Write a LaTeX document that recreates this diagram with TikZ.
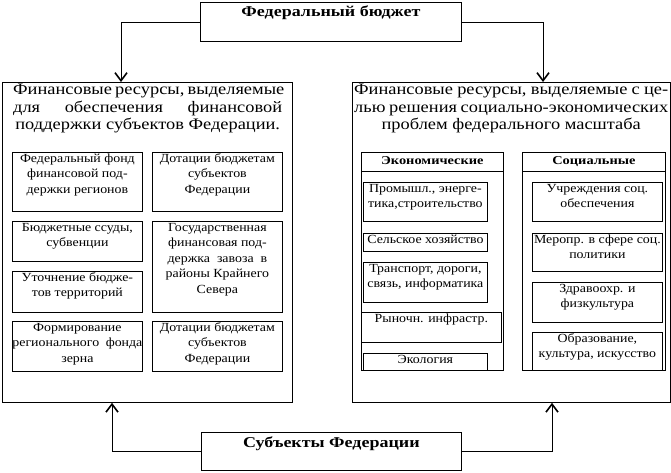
\documentclass[tikz,border=0pt]{standalone}
\usepackage{fontspec}
\setmainfont{Liberation Serif}[FakeStretch=1.12, BoldFeatures={FakeStretch=1.2}]
\newfontfamily\ttlfont{Liberation Serif}[FakeStretch=1.15]
\usetikzlibrary{arrows.meta}
\newcommand\bxt[3]{\parbox[t][#2pt][t]{#1pt}{\centering\rule{0pt}{10pt}#3\par}}
\begin{document}
\begin{tikzpicture}[x=1pt,y=-1pt,
  box/.style={draw, line width=0.8pt, inner sep=0pt, anchor=north west,
    font=\fontsize{12.4}{15.5}\selectfont},
  bigbox/.style={draw, line width=0.8pt, inner sep=0pt, anchor=north west},
  ttl/.style={anchor=north west, inner sep=0pt, align=left,
    font=\ttlfont\fontsize{16}{17.5}\selectfont},
  hdr/.style={draw, line width=0.8pt, inner sep=0pt, anchor=north west,
    font=\bfseries\fontsize{12}{14}\selectfont},
  conn/.style={line width=0.8pt, -{Straight Barb[length=8pt,width=12pt,line width=1.6pt]}}]
\useasboundingbox (0,0) rectangle (671,472);
% top and bottom
\node[bigbox, font=\bfseries\fontsize{15}{17}\selectfont] (fb) at (200,2)
  {\parbox[t][39pt][t]{261pt}{\centering\rule{0pt}{14pt}Федеральный бюджет\par}};
\node[bigbox, font=\bfseries\fontsize{15}{17}\selectfont] (sf) at (201,432)
  {\parbox[t][38pt][t]{260pt}{\centering\rule{0pt}{15pt}Субъекты Федерации\par}};
% panels
\node[bigbox, minimum width=290pt, minimum height=320pt] (lp) at (2,82) {};
\node[bigbox, minimum width=318pt, minimum height=320pt] (rp) at (352,82) {};
\node[ttl] (lt) at (13,84) {\makebox[269pt][s]{Финансовые ресурсы, выделяемые}\\
  \makebox[269pt][s]{для обеспечения финансовой}\\
  \makebox[269pt][c]{поддержки субъектов Федерации.}};
\node[ttl] (rt) at (354,84) {\makebox[314pt][s]{Финансовые ресурсы, выделяемые с це-}\\
  \makebox[314pt][s]{лью решения социально-экономических}\\
  \makebox[314pt][c]{проблем федерального масштаба}};
% left inner boxes
\node[box] (l1) at (12,152) {\bxt{130}{59}{Федеральный фонд\\финансовой под-\\держки регионов}};
\node[box] (r1) at (152,152) {\bxt{130}{59}{Дотации бюджетам\\субъектов\\Федерации}};
\node[box] (l2) at (12,221) {\bxt{130}{40}{Бюджетные ссуды,\\субвенции}};
\node[box] (r2) at (152,221) {\bxt{130}{91}{Государственная\\финансовая под-\\держка\ \ завоза\ \ в\\районы Крайнего\\Севера}};
\node[box] (l3) at (12,271) {\bxt{130}{41}{Уточнение бюдже-\\тов территорий}};
\node[box] (l4) at (12,321) {\bxt{130}{50}{Формирование\\регионального\ \ фонда\\зерна}};
\node[box] (r4) at (152,321) {\bxt{130}{50}{Дотации бюджетам\\субъектов\\Федерации}};
% right columns
\node[bigbox, minimum width=142pt, minimum height=218pt] (ec) at (361,152) {};
\node[hdr] (eh) at (361,152) {\parbox[t][19pt][t]{142pt}{\centering\rule{0pt}{12pt}Экономические\par}};
\node[bigbox, minimum width=143pt, minimum height=218pt] (sc) at (522,152) {};
\node[hdr] (sh) at (522,152) {\parbox[t][19pt][t]{143pt}{\centering\rule{0pt}{12pt}Социальные\par}};
\node[box] (e1) at (363,182) {\bxt{124}{39}{Промышл., энерге-\\тика,строительство}};
\node[box] (e2) at (363,233) {\bxt{124}{18}{Сельское хозяйство}};
\node[box] (e3) at (363,262) {\bxt{124}{40}{Транспорт, дороги,\\связь, информатика}};
\node[box] (e4) at (361,312) {\bxt{140}{30}{Рыночн. инфрастр.}};
\node[box] (e5) at (363,353) {\bxt{124}{17}{Экология}};
\node[box] (s1) at (532,182) {\bxt{130}{39}{Учреждения соц.\\обеспечения}};
\node[box] (s2) at (532,233) {\bxt{130}{38}{Меропр. в сфере соц.\\политики}};
\node[box] (s3) at (532,282) {\bxt{130}{40}{Здравоохр. и\\физкультура}};
\node[box] (s4) at (532,332) {\bxt{130}{38}{Образование,\\культура, искусство}};
% connectors
\draw[conn] (fb.west |- 0,22) -| (lp.north -| 121,0);
\draw[conn] (fb.east |- 0,22) -| (rp.north -| 543,0);
\draw[conn] (sf.west |- 0,451) -| (lp.south -| 112,0);
\draw[conn] (sf.east |- 0,451) -| (rp.south -| 552,0);
\end{tikzpicture}
\end{document}
